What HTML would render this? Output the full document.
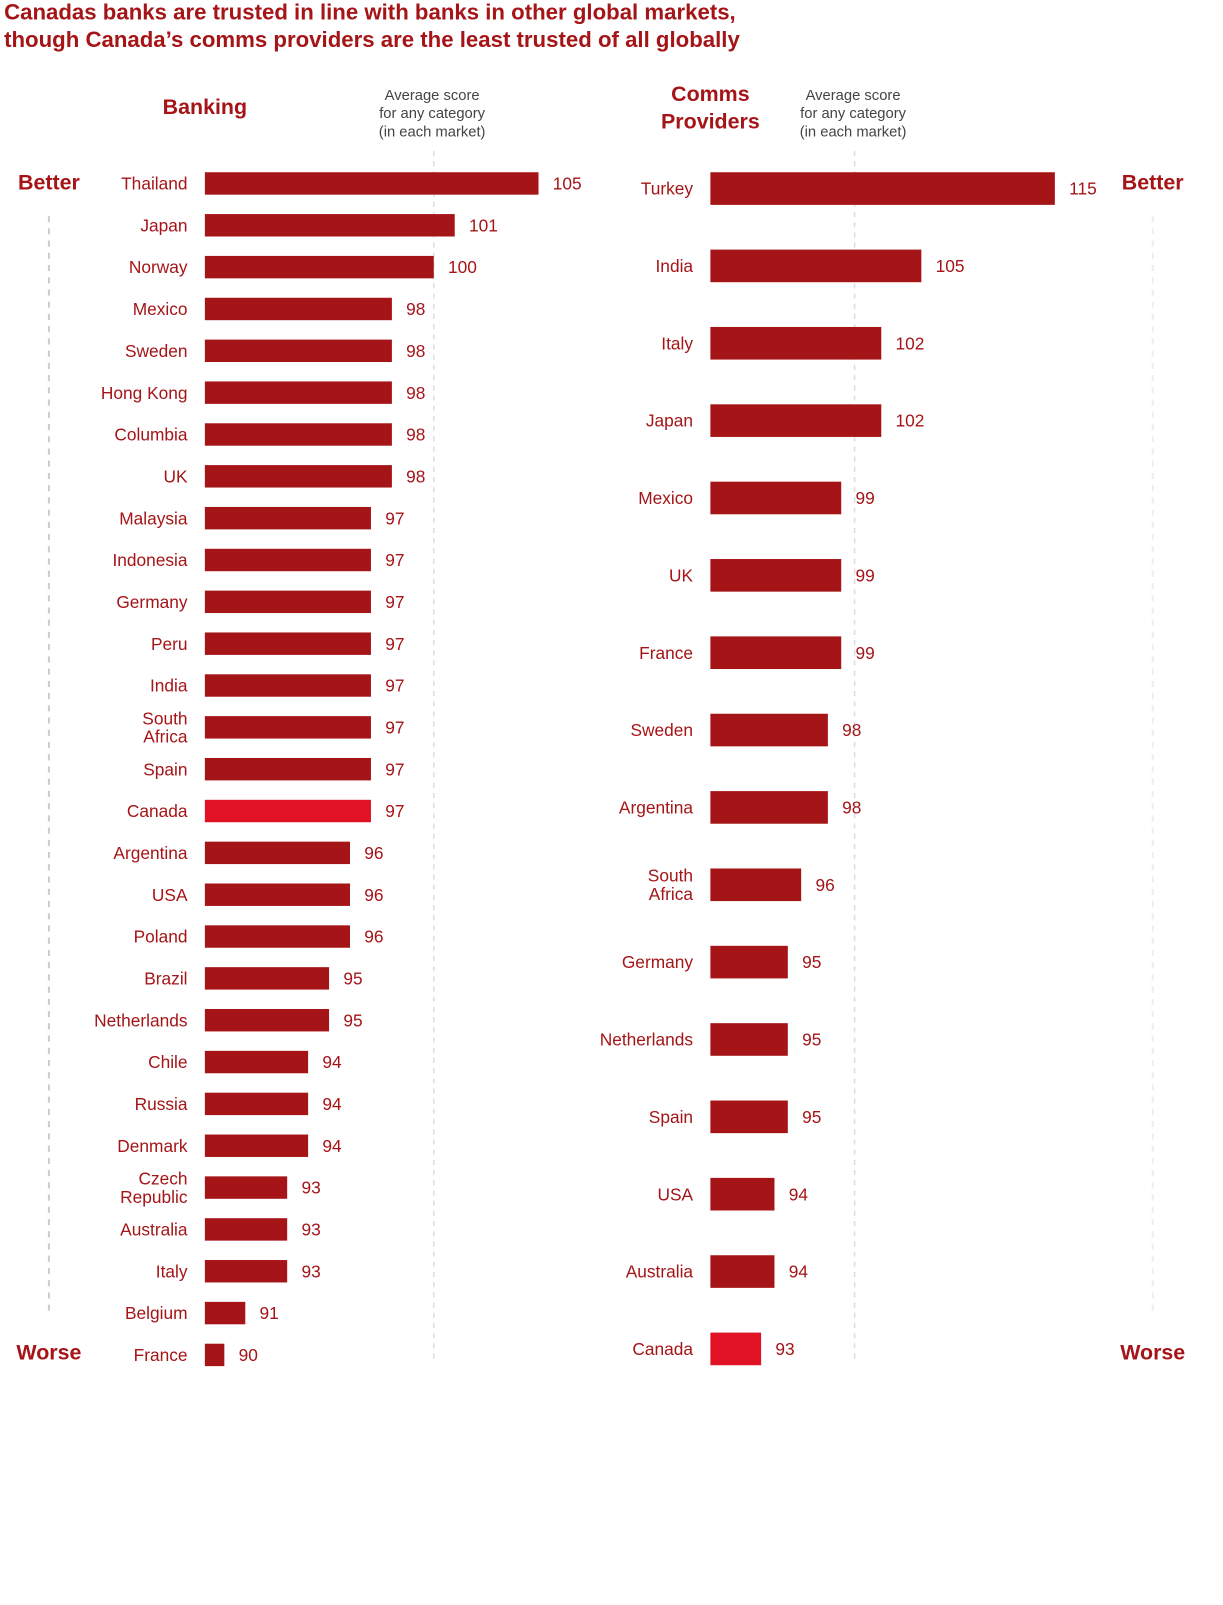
<!DOCTYPE html>
<html><head><meta charset="utf-8"><style>
body{margin:0;background:#fff;}
svg text{font-family:"Liberation Sans",sans-serif;}
</style></head><body>
<svg id="chart" width="1223" height="1600" xmlns="http://www.w3.org/2000/svg">
<g transform="scale(1.0192)">
<text x="4" y="19" font-size="21.8" font-weight="bold" fill="#a51417">Canadas banks are trusted in line with banks in other global markets,</text>
<text x="4" y="46" font-size="21.8" font-weight="bold" fill="#a51417">though Canada’s comms providers are the least trusted of all globally</text>
<text x="201" y="112" font-size="21" font-weight="bold" fill="#a51417" text-anchor="middle">Banking</text>
<text x="697" y="99" font-size="21" font-weight="bold" fill="#a51417" text-anchor="middle">Comms</text>
<text x="697" y="126" font-size="21" font-weight="bold" fill="#a51417" text-anchor="middle">Providers</text>
<g font-size="14.5" fill="#444" text-anchor="middle">
<text x="424" y="98">Average score</text><text x="424" y="116">for any category</text><text x="424" y="134">(in each market)</text></g>
<g font-size="14.5" fill="#444" text-anchor="middle">
<text x="837" y="98">Average score</text><text x="837" y="116">for any category</text><text x="837" y="134">(in each market)</text></g>
<text x="48" y="186" font-size="21" font-weight="bold" fill="#a51417" text-anchor="middle">Better</text>
<text x="48" y="1334" font-size="21" font-weight="bold" fill="#a51417" text-anchor="middle">Worse</text>
<text x="1131" y="186" font-size="21" font-weight="bold" fill="#a51417" text-anchor="middle">Better</text>
<text x="1131" y="1334" font-size="21" font-weight="bold" fill="#a51417" text-anchor="middle">Worse</text>
<line x1="48" y1="212" x2="48" y2="1292" stroke="#ccc" stroke-width="2" stroke-dasharray="6,6"/>
<line x1="1131" y1="212" x2="1131" y2="1292" stroke="#eee" stroke-width="2" stroke-dasharray="6,6"/>
<g id="bank"></g><g id="comms"></g>
</g>
</svg>
<script>
const bankCats=["Thailand","Japan","Norway","Mexico","Sweden","Hong Kong","Columbia","UK","Malaysia","Indonesia","Germany","Peru","India","South|Africa","Spain","Canada","Argentina","USA","Poland","Brazil","Netherlands","Chile","Russia","Denmark","Czech|Republic","Australia","Italy","Belgium","France"];
const bankVals=[105,101,100,98,98,98,98,98,97,97,97,97,97,97,97,97,96,96,96,95,95,94,94,94,93,93,93,91,90];
const commsCats=["Turkey","India","Italy","Japan","Mexico","UK","France","Sweden","Argentina","South|Africa","Germany","Netherlands","Spain","USA","Australia","Canada"];
const commsVals=[115,105,102,102,99,99,99,98,98,96,95,95,95,94,94,93];
const averageScore=100;
const NS="http://www.w3.org/2000/svg";
function mk(tag,attrs,parent){const e=document.createElementNS(NS,tag);for(const k in attrs)e.setAttribute(k,attrs[k]);parent.appendChild(e);return e;}
function draw(gid,cats,vals,cfg){
  const g=document.getElementById(gid);
  const xs=v=>cfg.x0+(v-cfg.base)*cfg.scale;
  const ax=xs(averageScore);
  const ln=mk('line',{x1:ax,y1:cfg.avgTop,x2:ax,y2:cfg.avgBot,stroke:'#ddd','stroke-width':1.5,'stroke-dasharray':'5,5'},g);
  
  
  cats.forEach((c,i)=>{
    const yc=cfg.y0+i*cfg.pitch;
    const canada=c==="Canada";
    const r=mk('rect',{x:cfg.x0,y:yc-cfg.h/2,width:xs(vals[i])-cfg.x0,height:cfg.h,fill:canada?'#e01224':'#a51417'},g);
    
    
    const parts=c.split('|');
    const t=mk('text',{x:cfg.x0-17,'font-size':17,fill:'#a51417','text-anchor':'end'},g);
    
    
    parts.forEach((p,j)=>{const ts=mk('tspan',{x:cfg.x0-17,y:yc+6+(j-(parts.length-1)/2)*18},t);ts.textContent=p;});
    const v=mk('text',{x:xs(vals[i])+14,y:yc+6,'font-size':17,fill:'#a51417'},g);
    v.textContent=vals[i];
    
    
  });
}
draw('bank',bankCats,bankVals,{x0:201,base:89.07,scale:20.55,y0:180,pitch:41.05,h:22,avgTop:148,avgBot:1335});
draw('comms',commsCats,commsVals,{x0:697,base:89.2,scale:13.1,y0:185,pitch:75.9,h:32,avgTop:148,avgBot:1335});
</script>
</body></html>
